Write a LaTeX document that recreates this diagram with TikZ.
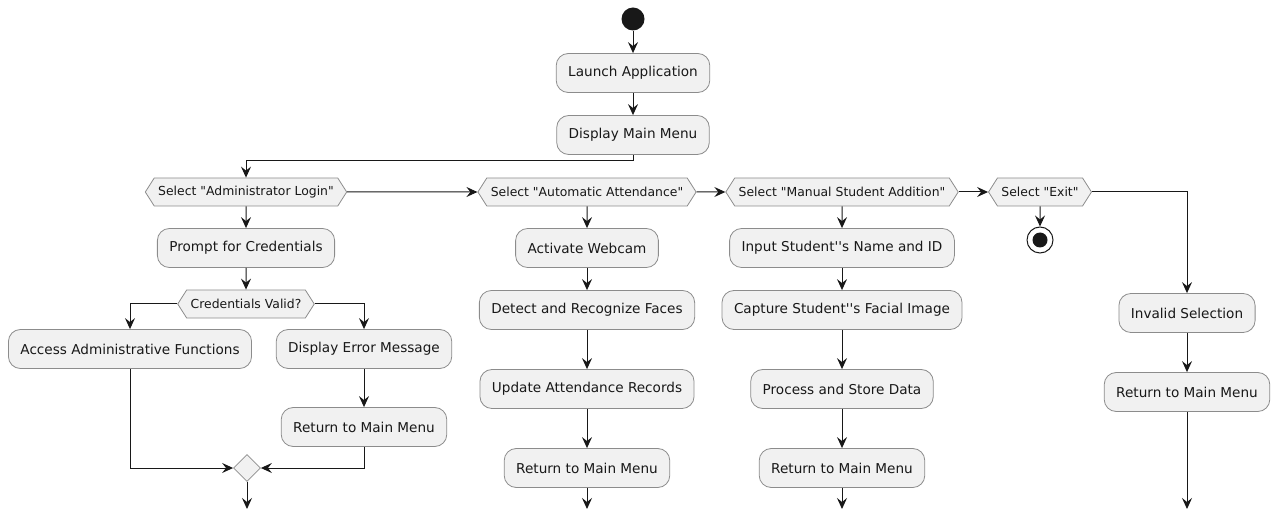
\documentclass[tikz,border=0pt]{standalone}
\usepackage{fontspec}
\setmainfont{DejaVu Sans}
\usetikzlibrary{arrows.meta,shapes.symbols,shapes.geometric}
\newcommand{\qt}{\textquotedbl}
\newcommand{\apo}{\textquotesingle}
\definecolor{actfill}{HTML}{F1F1F1}
\definecolor{actline}{HTML}{181818}
\definecolor{actborder}{HTML}{8C8C8C}

\begin{document}
\begin{tikzpicture}[x=1pt,y=-1pt,auto,node distance=62pt,
                main/.style = {rectangle, rounded corners=12pt, draw=actborder, fill=actfill, line width=0.8pt,
                               minimum height=39pt, inner xsep=12pt, font=\fontsize{13.6}{16}\selectfont},
                choice/.style = {signal, signal to=west and east, signal pointer angle=115, draw=actborder,
                                 fill=actfill, line width=0.8pt, minimum height=28pt, inner xsep=4pt, inner ysep=0pt,
                                 font=\fontsize{12.4}{14}\selectfont},
                merge/.style = {diamond, draw=actborder, fill=actfill, line width=0.8pt, minimum size=27pt, inner sep=0pt},
                startdot/.style = {circle, fill=actline, minimum size=23pt, inner sep=0pt},
                enddot/.style = {circle, draw=actline, fill=white, line width=1pt, minimum size=26pt, inner sep=0pt,
                                 path picture={\fill[actline] (path picture bounding box.center) circle (7.5pt);}},
                flow/.style = {draw, line width=1pt, -{Stealth[length=11pt,width=10pt,inset=4pt]}},
                every path/.style = {color=actline}]
                \useasboundingbox (0,0) rectangle (1273,510);
                % top
                \node[startdot] (start) at (633,19) {};
                \node[main] (launch) [below of=start, node distance=54pt] {Launch Application};
                \node[main] (menu) [below of=launch] {Display Main Menu};
                % choices
                \node[choice] (sadmin) at (246,192) {Select \qt Administrator Login\qt};
                \node[choice] (sauto) at (587,192) {Select \qt Automatic Attendance\qt};
                \node[choice] (smanual) at (842,192) {Select \qt Manual Student Addition\qt};
                \node[choice] (sexit) at (1040,192) {Select \qt Exit\qt};
                % administrator
                \node[main] (prompt) [below of=sadmin, node distance=56pt] {Prompt for Credentials};
                \node[choice] (cvalid) [below of=prompt, node distance=56pt] {Credentials Valid?};
                \node[main] (access) at (130,349) {Access Administrative Functions};
                \node[main] (error) at (364,349) {Display Error Message};
                \node[main] (ret1) [below of=error, node distance=78pt] {Return to Main Menu};
                \node[merge] (join) at (247,468) {};
                % automatic attendance
                \node[main] (webcam) [below of=sauto, node distance=56pt] {Activate Webcam};
                \node[main] (detect) [below of=webcam] {Detect and Recognize Faces};
                \node[main] (update) [below of=detect, node distance=79pt] {Update Attendance Records};
                \node[main] (ret2) [below of=update, node distance=79pt] {Return to Main Menu};
                % manual addition
                \node[main] (input) [below of=smanual, node distance=56pt] {Input Student\apo\apo s Name and ID};
                \node[main] (capture) [below of=input] {Capture Student\apo\apo s Facial Image};
                \node[main] (process) [below of=capture, node distance=79pt] {Process and Store Data};
                \node[main] (ret3) [below of=process, node distance=79pt] {Return to Main Menu};
                % exit
                \node[enddot] (stop) [below of=sexit, node distance=48pt] {};
                \node[main] (invalid) at (1187,313) {Invalid Selection};
                \node[main] (ret4) [below of=invalid, node distance=79pt] {Return to Main Menu};
                % loose ends
                \coordinate (out1) at (join |- 0,509);
                \coordinate (out2) at (ret2 |- 0,509);
                \coordinate (out3) at (ret3 |- 0,509);
                \coordinate (out4) at (ret4 |- 0,509);
                \path[flow]
                    (start) edge (launch)
                    (launch) edge (menu)
                    (sadmin) edge (sauto)
                    (sauto) edge (smanual)
                    (smanual) edge (sexit)
                    (sexit) edge (stop)
                    (sadmin) edge (prompt)
                    (prompt) edge (cvalid)
                    (error) edge (ret1)
                    (join) edge (out1)
                    (sauto) edge (webcam)
                    (webcam) edge (detect)
                    (detect) edge (update)
                    (update) edge (ret2)
                    (ret2) edge (out2)
                    (smanual) edge (input)
                    (input) edge (capture)
                    (capture) edge (process)
                    (process) edge (ret3)
                    (ret3) edge (out3)
                    (invalid) edge (ret4)
                    (ret4) edge (out4);
                \draw[flow] (menu.south) -- ++(0,5.5) -| (sadmin.north);
                \draw[flow] (sexit.east) -| (invalid.north);
                \draw[flow] (cvalid.west) -| (access.north);
                \draw[flow] (cvalid.east) -| (error.north);
                \draw[flow] (access.south) |- (join.west);
                \draw[flow] (ret1.south) |- (join.east);
            \end{tikzpicture}
\end{document}
